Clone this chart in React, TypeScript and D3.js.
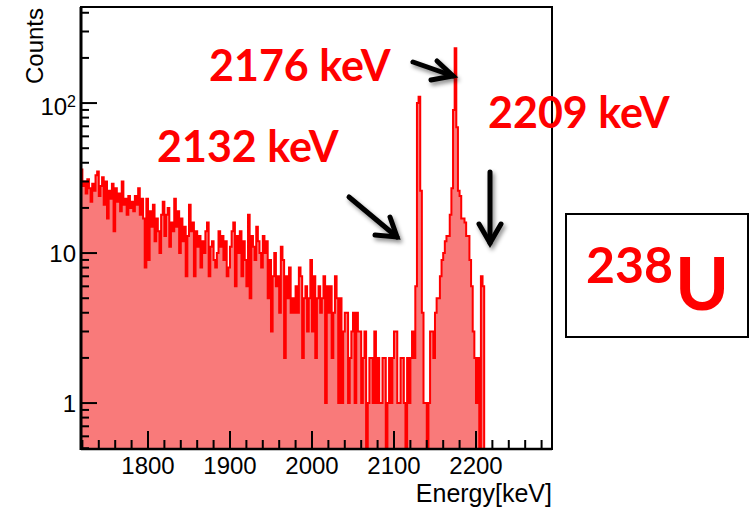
import React from "react";
import * as d3 from "d3";

const binStart = 1718;
const binWidth = 2;
const counts = [
  36, 28, 30, 25, 31, 27, 22, 29, 26, 33,
  35, 24, 28, 32, 21, 30, 17, 26, 23, 29,
  14, 27, 22, 25, 19, 30, 21, 23, 18, 24,
  20, 22, 19, 24, 21, 27, 18, 23, 17, 8,
  23, 9, 19, 15, 21, 12, 17, 14, 10, 18,
  22, 13, 18, 20, 11, 16, 14, 23, 15, 19,
  10, 17, 12, 15, 7, 13, 21, 14, 16, 7,
  14, 11, 13, 8, 12, 10, 14, 16, 7, 11,
  12, 9, 8, 10, 14, 11, 13, 9, 12, 7,
  8, 11, 14, 16, 6, 13, 10, 14, 7, 12,
  9, 6, 18, 5, 13, 11, 9, 15, 12, 10,
  8, 13, 10, 12, 5, 9, 3, 7, 10, 6,
  7, 4, 11, 9, 2, 7, 5, 8, 4, 5,
  4, 6, 4, 8, 7, 2, 5, 6, 3, 5,
  9, 3, 7, 2, 5, 6, 4, 5, 7, 1,
  6, 4, 6, 2, 4, 7, 5, 1, 5, 1,
  3, 4, 4, 1, 2, 3, 4, 1, 4, 3,
  3, 1, 2, 3, 0, 1, 2, 2, 1, 3,
  1, 2, 1, 1, 2, 2, 0, 1, 2, 1,
  2, 3, 3, 1, 1, 2, 2, 1, 0, 2,
  1, 2, 3, 2, 6, 100, 110, 26, 4, 1,
  1, 0, 1, 3, 3, 2, 4, 5, 5, 7,
  9, 10, 12, 13, 13, 18, 27, 90, 232, 69,
  26, 24, 17, 17, 16, 13, 13, 9, 6, 3,
  2, 1, 2, 0, 7, 6,
];

const xMajorTicks = [1800, 1900, 2000, 2100, 2200];
const xMinorTicks = d3.range(1720, 2292, 20);
const yMajorTicks = [1, 10, 100];
const yMinorTicks = [0.5, 0.6, 0.7, 0.8, 0.9, 2, 3, 4, 5, 6, 7, 8, 9, 20, 30, 40, 50, 60, 70, 80, 90, 200, 300, 400];

const peakLabels = [
  { text: "2176 keV", x: 209, y: 81 },
  { text: "2132 keV", x: 157, y: 162 },
  { text: "2209 keV", x: 488, y: 128 },
];

const arrows = [
  { x1: 413, y1: 62, x2: 453, y2: 76, w1: [437, 61], w2: [431, 80] },
  { x1: 349, y1: 197, x2: 397, y2: 237, w1: [390, 217], w2: [375, 235] },
  { x1: 490, y1: 172, x2: 490, y2: 243, w1: [479, 224], w2: [501, 224] },
];

const L = 81, R = 552, T = 7, B = 449;

export default function App() {
  const x = d3.scaleLinear().domain([1718.3, 2292.7]).range([L, R]);
  const y = d3.scaleLog().domain([0.494, 437]).range([B, T]);
  const yv = (v: number) => (v > 0 ? y(v) : B);

  let d = `M${x(binStart)},${B}`;
  counts.forEach((c, i) => {
    const x0 = x(binStart + i * binWidth);
    const x1 = x(binStart + (i + 1) * binWidth);
    d += `L${x0},${yv(c)}L${x1},${yv(c)}`;
  });
  const xEnd = x(binStart + counts.length * binWidth);
  d += `L${xEnd},${B}Z`;

  const axisFont = "'Liberation Sans', Arial, Helvetica, sans-serif";
  const redFont = "Lato, 'Open Sans', sans-serif";

  return (
    <svg width={750} height={507} style={{ position: "absolute", left: 0, top: 0, background: "#fff" }}>
      <defs>
        <clipPath id="plotclip">
          <rect x={L} y={T} width={R - L} height={B - T} />
        </clipPath>
        <filter id="shadow" x="-50%" y="-50%" width="200%" height="200%">
          <feDropShadow dx={2} dy={3} stdDeviation={2} floodColor="#000" floodOpacity={0.45} />
        </filter>
      </defs>
      <rect x={0} y={0} width={750} height={507} fill="#fff" />
      <g clipPath="url(#plotclip)">
        <path d={d} fill="#f97a7a" stroke="none" />
        <path d={d} fill="none" stroke="#ff0000" strokeWidth={2} />
      </g>
      {/* frame */}
      <rect x={L} y={T} width={R - L} height={B - T} fill="none" stroke="#000" strokeWidth={2} />
      <line x1={L} y1={T} x2={L} y2={B + 1} stroke="#000" strokeWidth={3} />
      <line x1={L} y1={B} x2={R} y2={B} stroke="#000" strokeWidth={2.5} />
      {/* x ticks */}
      {xMinorTicks.map((t) => (
        <line key={"xm" + t} x1={x(t)} x2={x(t)} y1={B} y2={B - (xMajorTicks.includes(t) ? 18 : 9)} stroke="#000" strokeWidth={2} />
      ))}
      {xMajorTicks.map((t) => (
        <text key={"xl" + t} x={x(t)} y={474} textAnchor="middle" fontFamily={axisFont} fontSize={24} fill="#000">
          {t}
        </text>
      ))}
      {/* y ticks */}
      {yMinorTicks.map((t) => (
        <line key={"ym" + t} x1={L} x2={L + 8} y1={y(t)} y2={y(t)} stroke="#000" strokeWidth={2} />
      ))}
      {yMajorTicks.map((t) => (
        <line key={"yM" + t} x1={L} x2={L + 16} y1={y(t)} y2={y(t)} stroke="#000" strokeWidth={2} />
      ))}
      <text x={76} y={y(1) + 9} textAnchor="end" fontFamily={axisFont} fontSize={24}>1</text>
      <text x={76} y={y(10) + 8.5} textAnchor="end" fontFamily={axisFont} fontSize={24}>10</text>
      <text x={76} y={y(100) + 12} textAnchor="end" fontFamily={axisFont} fontSize={24}>
        10<tspan fontSize={16} dy={-8}>2</tspan>
      </text>
      <text transform="translate(43,8) rotate(-90)" textAnchor="end" fontFamily={axisFont} fontSize={24}>Counts</text>
      <text x={552} y={502} textAnchor="end" fontFamily={axisFont} fontSize={25}>Energy[keV]</text>

      {/* annotations */}
      {peakLabels.map((p) => (
        <text key={p.text} x={p.x} y={p.y} fontFamily={redFont} fontWeight="bold" fontSize={43} fill="#ff0000">
          {p.text}
        </text>
      ))}
      {arrows.map((a, i) => (
        <g key={"ar" + i} filter="url(#shadow)" stroke="#000" strokeWidth={5} strokeLinecap="round" fill="none">
          <line x1={a.x1} y1={a.y1} x2={a.x2} y2={a.y2} />
          <polyline points={`${a.w1[0]},${a.w1[1]} ${a.x2},${a.y2} ${a.w2[0]},${a.w2[1]}`} strokeLinejoin="miter" />
        </g>
      ))}
      <rect x={566} y={214} width={182} height={123} fill="#fff" stroke="#000" strokeWidth={2} />
      <text x={586} y={283} fontFamily={redFont} fontWeight="bold" fontSize={50} fill="#ff0000">238</text>
      <text x={675} y={310} fontFamily={redFont} fontWeight="bold" fontSize={73} fill="#ff0000">U</text>
    </svg>
  );
}
